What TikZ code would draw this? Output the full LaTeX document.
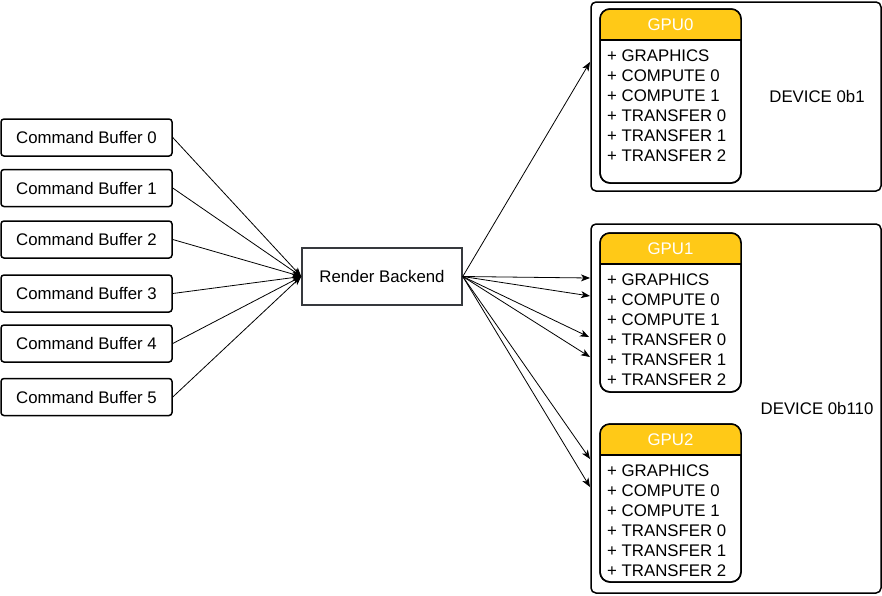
\documentclass[tikz,border=0pt]{standalone}
\usepackage{fontspec}
\setmainfont{Liberation Sans}
\usetikzlibrary{arrows.meta}
\definecolor{hdryellow}{HTML}{FFC917}
\definecolor{rbgray}{HTML}{36393D}
\tikzset{
  every node/.style={font=\fontsize{16.8}{20}\selectfont},
  cbbox/.style={draw=black, line width=1.5pt, rounded corners=3pt, minimum width=171pt, minimum height=37pt, inner sep=0pt, fill=white},
  rbbox/.style={draw=rbgray, line width=1.5pt, minimum width=160pt, minimum height=57pt, inner sep=0pt, fill=white},
  devbox/.style={draw=black, line width=1.5pt, rounded corners=5pt, minimum width=290pt, inner sep=0pt},
  gpubox/.style={draw=black, line width=1.5pt, rounded corners=10pt, minimum width=141pt, inner sep=0pt},
  hdrtext/.style={text=white, inner sep=0pt},
  item/.style={anchor=west, inner sep=0pt, text height=12pt, text depth=0pt},
  conn/.style={line width=0.8pt, -{Stealth[length=9pt, width=7pt, inset=2.5pt]}},
}
\begin{document}
\begin{tikzpicture}[x=1pt, y=-1pt]
\useasboundingbox (0,0) rectangle (882,595);
% command buffers
\foreach \i/\yy in {0/137.5, 1/188, 2/239.5, 3/293.5, 4/343.5, 5/397} {
  \node[cbbox] (cb\i) at (86.5,\yy) {Command Buffer \i};
}
% render backend
\node[rbbox] (rb) at (382,276.5) {Render Backend};
% devices
\node[devbox, minimum height=189pt] (dev0) at (736,96.5) {};
\node[devbox, minimum height=369pt] (dev1) at (736,408.5) {};
\node (dev0l) at (817,96) {DEVICE 0b1};
\node (dev1l) at (817,408) {DEVICE 0b110};
% GPU boxes
\foreach \g/\top/\bot in {0/9/183, 1/233/392, 2/424/582} {
  \node[gpubox, fill=white, minimum height={(\bot-\top)*1pt}] (gpu\g) at (670.5,{(\top+\bot)/2}) {};
  \begin{scope}
    \clip[rounded corners=10pt] (600,\top) rectangle (741,\bot);
    \fill[hdryellow] (600,\top) rectangle (741,\top+31);
  \end{scope}
  \draw[line width=1.5pt] (600,\top+31) -- (741,\top+31);
  \node[gpubox, minimum height={(\bot-\top)*1pt}] at (670.5,{(\top+\bot)/2}) {};
  \node[hdrtext] (gpu\g h) at (670.5,\top+15.5) {GPU\g};
  \foreach \t [count=\k from 0] in {GRAPHICS, COMPUTE 0, COMPUTE 1, TRANSFER 0, TRANSFER 1, TRANSFER 2} {
    \node[item] (gpu\g i\k) at (607,\top+46+20*\k) {+ \t};
  }
}
% incoming connectors
\foreach \i in {0,...,5} {
  \draw[conn] (cb\i.east) -- (rb.west);
}
% outgoing connector targets
\coordinate (t0) at (590,62);
\coordinate (t1) at (590,278);
\coordinate (t2) at (590,296);
\coordinate (t3) at (589,337);
\coordinate (t4) at (590,357);
\coordinate (t5) at (590,459);
\coordinate (t6) at (590,487);
\foreach \k in {0,...,6} {
  \draw[conn] (rb.east) -- (t\k);
}
\end{tikzpicture}
\end{document}
